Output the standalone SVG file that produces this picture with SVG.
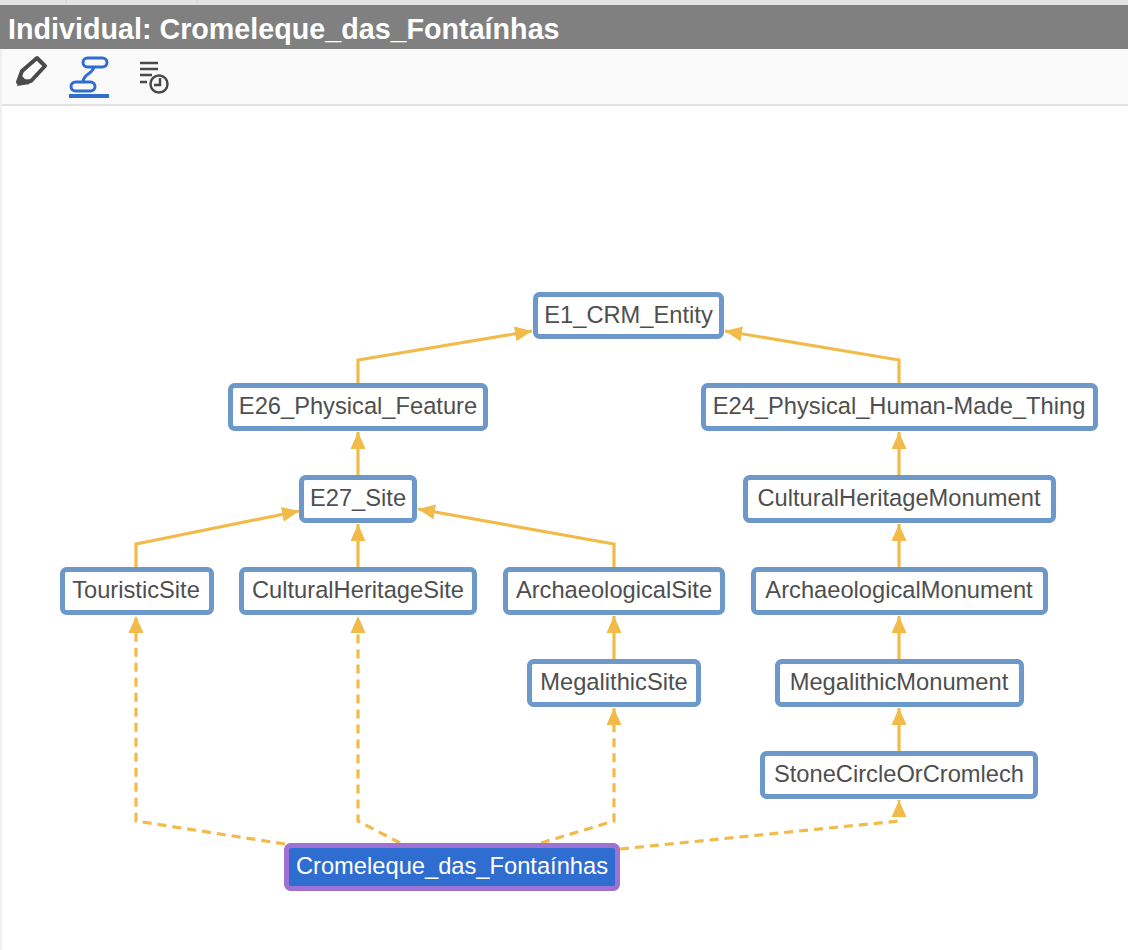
<svg xmlns="http://www.w3.org/2000/svg" width="1128" height="950" viewBox="0 0 1128 950">
<style>
text{font-family:"Liberation Sans",Arial,sans-serif}
.n rect{fill:#fff;stroke:#6d98ca;stroke-width:5}
.n text{font-size:23.7px;fill:#4f4f4f;text-anchor:middle}
.e{fill:none;stroke:#f1bb4a;stroke-width:3.2}
.d{stroke-dasharray:9 6}
</style>
<defs><marker id="a" markerUnits="userSpaceOnUse" markerWidth="18" markerHeight="16" refX="17" refY="8" orient="auto"><path d="M0 0.500L17 8L0 15.500z" fill="#f1bb4a"/></marker></defs>
<rect width="1128" height="950" fill="#fff"/>
<rect width="1128" height="5" fill="#e4e4e4"/>
<path d="M66 0V4M197 0V4" stroke="#cfcfcf" fill="none"/>
<rect y="5" width="1128" height="44" fill="#808080"/>
<text x="8" y="38.500" font-size="28.700" font-weight="700" fill="#fff">Individual: Cromeleque_das_Fontaínhas</text>
<rect x="2" y="49" width="1126" height="56" fill="#fafafa"/>
<rect x="2" y="104" width="1126" height="2" fill="#e2e2e2"/>
<rect y="49" width="2" height="901" fill="#f0f0f0"/>
<g id="toolbar">
<path d="M18 82L22 71L37 58L45 66L31 81z" fill="#fff" stroke="#4a4a4a" stroke-width="4" stroke-linejoin="round"/>
<path d="M17 86L20 74L30 84z" fill="#4a4a4a"/>
<rect x="83" y="58" width="24" height="9" rx="4.500" fill="none" stroke="#2f6dd0" stroke-width="3"/>
<rect x="71" y="82" width="24" height="9" rx="4.500" fill="none" stroke="#2f6dd0" stroke-width="3"/>
<path d="M94 67C92 75 84 73 83 82" fill="none" stroke="#2f6dd0" stroke-width="3"/>
<rect x="69" y="94" width="40" height="4" fill="#2f6dd0"/>
<path d="M140 63H158M140 69H158M140 75H152M140 82H147" stroke="#4a4a4a" stroke-width="2.500" fill="none"/>
<circle cx="159" cy="84" r="8.500" fill="#fafafa" stroke="#4a4a4a" stroke-width="2.500"/>
<path d="M160 78V85H154" stroke="#4a4a4a" stroke-width="2.500" fill="none"/>
</g>
<g id="connectors">
<path class="e" marker-end="url(#a)" d="M358 383V360L532 331"/>
<path class="e" marker-end="url(#a)" d="M899 383V360L725 331"/>
<path class="e" marker-end="url(#a)" d="M358 475V432"/>
<path class="e" marker-end="url(#a)" d="M899 475V432"/>
<path class="e" marker-end="url(#a)" d="M136 567V544L299 511"/>
<path class="e" marker-end="url(#a)" d="M358 567V524"/>
<path class="e" marker-end="url(#a)" d="M614 567V544L418 509"/>
<path class="e" marker-end="url(#a)" d="M899 567V524"/>
<path class="e" marker-end="url(#a)" d="M614 659V616"/>
<path class="e" marker-end="url(#a)" d="M899 659V616"/>
<path class="e" marker-end="url(#a)" d="M899 751V708"/>
<path class="e d" marker-end="url(#a)" d="M285 844L136 821V616"/>
<path class="e d" marker-end="url(#a)" d="M400 843L358 821V616"/>
<path class="e d" marker-end="url(#a)" d="M541 843L614 821V708"/>
<path class="e d" marker-end="url(#a)" d="M620 849L899 821V800"/>
</g>
<g id="n-e1" class="n"><rect x="535.500" y="294.500" width="186" height="42" rx="4"/><text x="628.500" y="322.500">E1_CRM_Entity</text></g>
<g id="n-e26" class="n"><rect x="230.500" y="385.500" width="255" height="43" rx="4"/><text x="358" y="414">E26_Physical_Feature</text></g>
<g id="n-e24" class="n"><rect x="703.500" y="385.500" width="392" height="43" rx="4"/><text x="899" y="414">E24_Physical_Human-Made_Thing</text></g>
<g id="n-e27" class="n"><rect x="301.500" y="477.500" width="113" height="43" rx="4"/><text x="358" y="506">E27_Site</text></g>
<g id="n-chm" class="n"><rect x="745.500" y="477.500" width="308" height="43" rx="4"/><text x="899" y="506">CulturalHeritageMonument</text></g>
<g id="n-ts" class="n"><rect x="62.500" y="569.500" width="149" height="43" rx="4"/><text x="136" y="598">TouristicSite</text></g>
<g id="n-chs" class="n"><rect x="241.500" y="569.500" width="233" height="43" rx="4"/><text x="358" y="598">CulturalHeritageSite</text></g>
<g id="n-as" class="n"><rect x="505.500" y="569.500" width="217" height="43" rx="4"/><text x="614" y="598">ArchaeologicalSite</text></g>
<g id="n-am" class="n"><rect x="753.500" y="569.500" width="292" height="43" rx="4"/><text x="899" y="598">ArchaeologicalMonument</text></g>
<g id="n-ms" class="n"><rect x="529.500" y="661.500" width="169" height="43" rx="4"/><text x="614" y="690">MegalithicSite</text></g>
<g id="n-mm" class="n"><rect x="777.500" y="661.500" width="244" height="43" rx="4"/><text x="899" y="690">MegalithicMonument</text></g>
<g id="n-sc" class="n"><rect x="762.500" y="753.500" width="273" height="43" rx="4"/><text x="899" y="782">StoneCircleOrCromlech</text></g>
<g id="n-crom" class="n"><rect x="286.500" y="845.500" width="331" height="43" rx="4" style="fill:#2f6dd0;stroke:#9e72d2"/><text x="452" y="874" style="fill:#fff">Cromeleque_das_Fontaínhas</text></g>
</svg>
